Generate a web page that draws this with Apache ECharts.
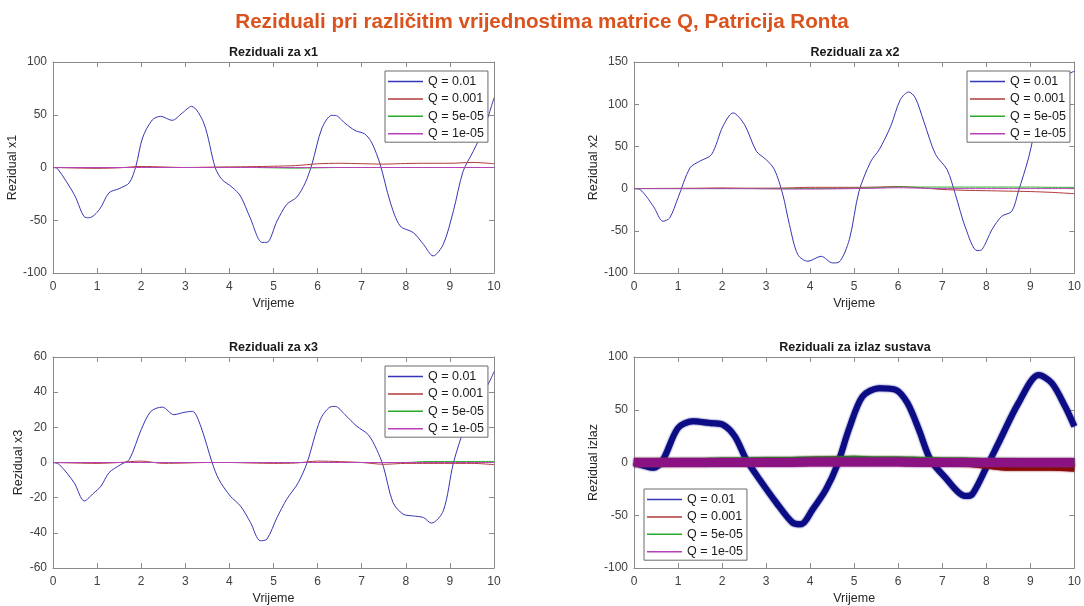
<!DOCTYPE html>
<html><head><meta charset="utf-8">
<script src="https://cdn.jsdelivr.net/npm/echarts@6/dist/echarts.min.js"></script>
<style>html,body{margin:0;padding:0;background:#fff}#c{width:1084px;height:606px}</style>
</head><body><div id="c"></div>
<script>
const mainTitle = 'Reziduali pri različitim vrijednostima matrice Q, Patricija Ronta';
const plotTitles = ['Reziduali za x1','Reziduali za x2','Reziduali za x3','Reziduali za izlaz sustava'];
const yNames = ['Rezidual x1','Rezidual x2','Rezidual x3','Rezidual izlaz'];
const xName = 'Vrijeme';
const legendNames = ['Q = 0.01','Q = 0.001','Q = 5e-05','Q = 1e-05'];
const xTicks = [0,1,2,3,4,5,6,7,8,9,10];
const yRanges = [[-100,100,50],[-100,150,50],[-60,60,20],[-100,100,50]];

// Q = 0.01 (large residuals)
const t1 = [0,0.1,0.48,0.75,0.82,1.05,1.27,1.5,1.73,1.88,2.03,2.25,2.44,2.7,2.93,3.14,3.42,3.68,3.83,4.06,4.25,4.47,4.74,4.85,5.08,5.3,5.53,5.72,5.87,6.1,6.32,6.4,6.62,6.85,7.07,7.23,7.42,7.64,7.87,8.17,8.4,8.62,8.85,9.08,9.3,9.53,9.79,10];
const v1 = [0,-1,-25.5,-47.6,-47.6,-40,-24,-20,-14.5,1.3,28,45,48.5,44.7,51.6,58,42,-0.3,-11.3,-18.6,-27,-47.6,-71,-71,-50.7,-35,-28,-14.5,2.8,37.5,49.4,49.4,42,35,31.8,23.3,2.8,-31.8,-55.4,-61.7,-72.8,-83.8,-72.8,-41,-3.5,15.4,39,66];
const t2 = [0,0.14,0.44,0.66,0.81,1.0,1.27,1.49,1.76,2.02,2.25,2.51,2.78,3.0,3.19,3.38,3.53,3.72,3.95,4.25,4.51,4.66,4.89,5.11,5.38,5.57,5.83,6.05,6.24,6.39,6.58,6.85,7.11,7.3,7.53,7.79,7.9,8.13,8.35,8.58,8.73,8.96,9.2,9.4,9.6,9.8,9.87,10];
const v2 = [0,-1.2,-21,-38.7,-34.8,-11,24.5,32.4,40.3,73.9,89.7,75.8,44.2,34.4,22.5,-7.1,-42.7,-78.2,-86.1,-80.2,-88.1,-86.9,-60.4,-3.2,32.4,46.2,73.9,105.5,114.5,107.4,79.8,40.3,22.5,-7.1,-46.6,-73.5,-72.3,-48.6,-32.8,-26.9,-3.2,36.3,90,115,128,132,136,139];
const t3 = [0,0.14,0.48,0.71,0.93,1.09,1.27,1.54,1.73,2.0,2.22,2.48,2.74,2.97,3.16,3.35,3.61,3.76,4.02,4.25,4.48,4.7,4.85,5.08,5.3,5.56,5.76,6.06,6.28,6.4,6.62,6.89,7.15,7.34,7.49,7.71,7.94,8.17,8.4,8.58,8.85,9.08,9.34,9.6,9.83,10];
const v3 = [0,-1.1,-11.5,-21.9,-17.2,-13.4,-5.8,-1.1,1.7,18.7,29.1,31.5,27.2,28.5,29.1,20.6,-0.2,-9.6,-19.1,-24.7,-34.2,-44.5,-43.6,-31.3,-20.9,-11.5,-0.2,24.3,31.5,31.9,27.2,20.6,15.8,7.4,-2.1,-22.8,-29.4,-30.4,-31.3,-34.5,-27.5,-0.2,20.6,37.5,43,51.7];
const t4 = [0,0.44,0.66,1.0,1.34,1.72,2.02,2.29,2.55,2.85,3.23,3.6,3.79,4.06,4.36,4.62,4.89,5.19,5.57,5.94,6.21,6.47,6.73,7.04,7.53,7.68,7.98,8.28,8.73,9.19,9.49,9.79,10];
const v4 = [0,-5,2.8,32.7,39,37.4,35.8,24.8,2.8,-16,-38,-57,-58.5,-44.3,-25.5,-1.9,32.7,62.6,70.4,68.9,56.3,31.1,2.8,-12.9,-31.8,-30.2,-6.6,18.6,56.3,83,75.2,53.1,34.3];

// small-Q residuals (sampled every 0.5 s)
const tS = [0,0.5,1,1.5,2,2.5,3,3.5,4,4.5,5,5.5,6,6.5,7,7.5,8,8.5,9,9.5,10];
const x1_r = [0,-0.5,-0.8,-0.3,1,0.5,0,0.3,0.6,0.8,1.2,1.8,3.5,4,3.6,3.2,3.8,4,4,4.8,3.6];
const x1_g = [0,0,0,0,0,0,0,0,0,0,-0.3,-0.6,-0.3,0,0,0,0,0,0,0,0];
const x1_m = [0,0,0,0,0,0,0,0,0,0,0,0,0,0,0,0,0,0,0,0,0];
const x2_r = [0,0.2,0.3,0.5,0.8,0.5,0.5,0.8,1.5,1.5,1.5,1.8,2.5,1,-1,-2,-2.5,-3,-3.5,-4.5,-6];
const x2_g = [0,0,0,0,0,0,0,0,0,0,0.5,1,2,1.8,1.8,1.8,1.8,1.8,1.8,1.5,1.5];
const x2_m = [0,0,0,0,0,0,-0.3,-0.5,-0.5,-0.3,0,0.5,1,0.5,0,0,0,0,0,0,0];
const x3_r = [0,-0.3,-0.5,0,0.8,-0.5,-0.3,0,0,-0.3,-0.5,-0.3,0.8,0.5,0,-1,-0.5,-0.5,-0.5,-0.5,-1.2];
const x3_g = [0,0,0,0,0,0,0,0,0,0,0,0,0,0,0,0,0,0.6,0.6,0.6,0.6];
const x3_m = [0,0,0,0,0,0,0,0,0,0,0,0,0,0,0,0,0,0,0,0,0];
const y_r = [0,0,0,0,0.5,0.5,1,1,1.5,2,2,1.5,1.5,1,0.5,0,-2,-4,-4,-4,-5];
const y_g = [0,0,0.5,0.5,1,1,1.5,1.5,2,2,2.5,2,2,1.5,1,1,0.5,0.5,0,0,0];
const y_m = [0,0,0,0,0,0,0,0,0.5,0.5,0.5,0.5,0.5,0,0,0,0,0,0,0,0];

const zip = (t, v) => t.map((x, i) => [x, v[i]]);
const FONT = '"Liberation Sans", Arial, Helvetica, sans-serif';
const grids = [
  {left: 53, top: 62, width: 441, height: 211},
  {left: 634, top: 62, width: 442, height: 211},
  {left: 53, top: 357, width: 441, height: 212},
  {left: 634, top: 357, width: 442, height: 212}
];
const axisCol = '#8a8a8a';
const xAxes = [], yAxes = [];
grids.forEach((g, i) => {
  const base = {type: 'value', gridIndex: i, min: 0, max: 10, interval: 1, splitLine: {show: false},
    axisLine: {show: true, onZero: false, lineStyle: {color: axisCol, width: 1}},
    axisTick: {show: true, inside: true, length: 5, lineStyle: {color: axisCol}}};
  xAxes.push(Object.assign({}, base, {position: 'bottom', name: xName, nameLocation: 'middle', nameGap: 24,
    nameTextStyle: {fontFamily: FONT, fontSize: 12.5, color: '#262626'},
    axisLabel: {fontFamily: FONT, fontSize: 12, color: '#404040', margin: 8}}));
  xAxes.push(Object.assign({}, base, {position: 'top', axisLabel: {show: false}}));
  const [mn, mx, iv] = yRanges[i];
  const ybase = {type: 'value', gridIndex: i, min: mn, max: mx, interval: iv, splitLine: {show: false},
    axisLine: {show: true, onZero: false, lineStyle: {color: axisCol, width: 1}},
    axisTick: {show: true, inside: true, length: 5, lineStyle: {color: axisCol}}};
  yAxes.push(Object.assign({}, ybase, {position: 'left', name: yNames[i], nameLocation: 'middle', nameGap: 28,
    nameTextStyle: {fontFamily: FONT, fontSize: 12.5, color: '#262626'},
    axisLabel: {fontFamily: FONT, fontSize: 12, color: '#404040', margin: 6}}));
  yAxes.push(Object.assign({}, ybase, {position: 'right', axisLabel: {show: false}}));
});

const thinCols = ['#3636b6', '#b03a3a', '#2aa82a', '#b840b8'];
const thickCols = ['#0c0c84', '#8a0a0a', '#1a8a1a', '#8a1282'];
const thickW = [6, 8, 8, 9];
const seriesData = [
  [zip(t1, v1), zip(tS, x1_r), zip(tS, x1_g), zip(tS, x1_m)],
  [zip(t2, v2), zip(tS, x2_r), zip(tS, x2_g), zip(tS, x2_m)],
  [zip(t3, v3), zip(tS, x3_r), zip(tS, x3_g), zip(tS, x3_m)],
  [zip(t4, v4), zip(tS, y_r), zip(tS, y_g), zip(tS, y_m)]
];
const series = [];
seriesData.forEach((arr, gi) => {
  arr.forEach((d, si) => {
    const thick = gi === 3;
    const col = thick ? thickCols[si] : thinCols[si];
    const w = thick ? thickW[si] : 1;
    series.push({
      type: 'line', name: legendNames[si], xAxisIndex: gi * 2, yAxisIndex: gi * 2,
      data: d, showSymbol: false, symbol: 'none', smooth: 0.3, animation: false,
      color: col,
      lineStyle: thick ? {width: w, color: col, shadowColor: col, shadowBlur: 2} : {width: w, color: col}
    });
  });
});

const legPos = [
  {left: 385, top: 71},
  {left: 967, top: 71},
  {left: 385, top: 366},
  {left: 644, top: 489}
];
const legends = legPos.map(p => ({
  left: p.left, top: p.top, orient: 'vertical', data: legendNames,
  icon: 'rect', itemWidth: 35, itemHeight: 1.5, itemGap: 4.4, itemTextGap: 3,
  padding: [4, 4, 2, 3], borderColor: '#6a6a6a', borderWidth: 1, backgroundColor: '#fff',
  selectedMode: false,
  textStyle: {fontFamily: FONT, fontSize: 12.5, color: '#1a1a1a', lineHeight: 13}
}));

const titles = [{text: mainTitle, left: 542, top: 12, textAlign: 'center', padding: 0,
  textStyle: {fontFamily: FONT, fontSize: 20.6, fontWeight: 'bold', color: '#D9531E'}}];
const tPos = [[273.5, 46], [855, 46], [273.5, 341], [855, 341]];
plotTitles.forEach((t, i) => titles.push({text: t, left: tPos[i][0], top: tPos[i][1], textAlign: 'center', padding: 0,
  textStyle: {fontFamily: FONT, fontSize: 12.5, fontWeight: 'bold', color: '#1a1a1a'}}));

const chart = echarts.init(document.getElementById('c'), null, {renderer: 'canvas'});
chart.setOption({
  backgroundColor: '#fff', animation: false,
  title: titles, grid: grids, xAxis: xAxes, yAxis: yAxes, legend: legends, series: series
});
</script></body></html>
